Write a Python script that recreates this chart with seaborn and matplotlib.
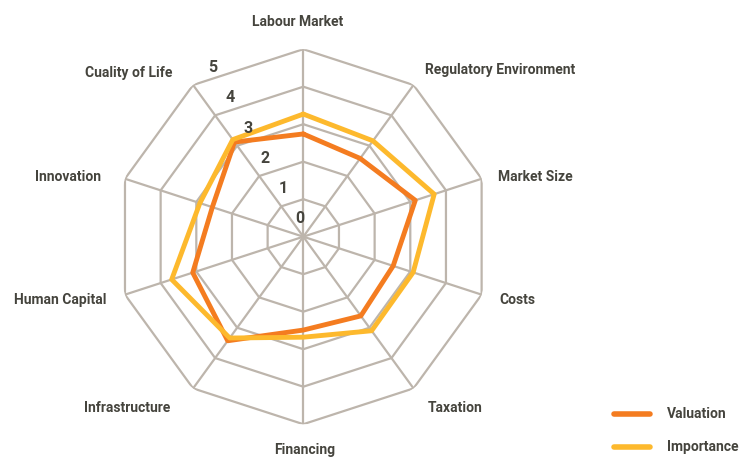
import numpy as np
import pandas as pd
import matplotlib
matplotlib.use("Agg")
import matplotlib.pyplot as plt
import seaborn as sns
from matplotlib.lines import Line2D

categories = ["Labour Market", "Regulatory Environment", "Market Size", "Costs",
              "Taxation", "Financing", "Infrastructure", "Human Capital",
              "Innovation", "Cuality of Life"]
valuation = [2.74, 2.58, 3.14, 2.52, 2.61, 2.49, 3.43, 3.10, 2.55, 3.12]
importance = [3.27, 3.16, 3.67, 3.08, 3.10, 2.68, 3.34, 3.69, 2.90, 3.20]
series_names = ["Valuation", "Importance"]
radial_ticks = [0, 1, 2, 3, 4, 5]

W, H = 746, 458
sns.set_theme(style="white")
plt.rcParams["font.family"] = ["Roboto", "DejaVu Sans"]

fig = plt.figure(figsize=(W / 100, H / 100), dpi=100)
cx, cy, R = 303.3, 236.7, 187.5
ax = fig.add_axes([(cx - R) / W, (H - cy - R) / H, 2 * R / W, 2 * R / H], projection="polar")
ax.set_theta_zero_location("N")
ax.set_theta_direction(-1)
ax.set_ylim(0, 5)
ax.grid(False)
ax.spines["polar"].set_visible(False)
ax.patch.set_alpha(0)

n = len(categories)
angles = np.linspace(0, 2 * np.pi, n, endpoint=False)
grid_col = "#bdb5ac"
closed = np.append(angles, angles[0])
for v in radial_ticks[1:]:
    ax.plot(closed, [v] * (n + 1), color=grid_col, lw=1.6, zorder=1)
for a in angles:
    ax.plot([a, a], [0, 5], color=grid_col, lw=1.6, zorder=1)

colors = {"Valuation": "#f47c20", "Importance": "#fdb92d"}
rows = []
for name, vals in zip(series_names, [valuation, importance]):
    vv = list(vals) + [vals[0]]
    for i, (a, v) in enumerate(zip(closed, vv)):
        rows.append({"series": name, "theta": a, "r": v, "order": i})
df = pd.DataFrame(rows)
for name in series_names:
    sns.lineplot(data=df[df.series == name], x="theta", y="r", sort=False,
                 estimator=None, color=colors[name], lw=3.5, ax=ax, zorder=3,
                 legend=False)
ax.set_xlabel("")
ax.set_ylabel("")
ax.set_xticks([])
ax.set_yticks([])
ax.set_ylim(0, 5)

txt_col = "#45443d"
# radial tick labels
for v in radial_ticks:
    px = -0.5 * 0.93 * v * 37.5 - 3
    py = 0.866 * 0.93 * v * 37.5 + 18
    th = np.arctan2(px, py)
    rr = np.hypot(px, py) / 37.5
    ax.text(th, rr, str(v), ha="center", va="center", fontsize=11.5,
            fontweight="bold", color=txt_col, zorder=5)

label_pos = [(298, 22, "center"), (425, 70, "left"), (498, 177, "left"),
             (499, 300, "left"), (428, 408, "left"), (305, 450, "center"),
             (170, 408, "right"), (106, 300, "right"), (101, 177, "right"),
             (172, 73, "right")]
for lab, (x, y, ha) in zip(categories, label_pos):
    fig.text(x / W, 1 - y / H, lab, ha=ha, va="center", fontsize=10,
             fontweight="bold", color=txt_col)

# legend
for i, name in enumerate(series_names):
    y = 414 + 33 * i
    fig.add_artist(Line2D([614 / W, 650 / W], [1 - y / H, 1 - y / H],
                          color=colors[name], lw=4))
    fig.text(667 / W, 1 - y / H, name, ha="left", va="center", fontsize=10,
             fontweight="bold", color=txt_col)

fig.savefig("out.png", dpi=100)
